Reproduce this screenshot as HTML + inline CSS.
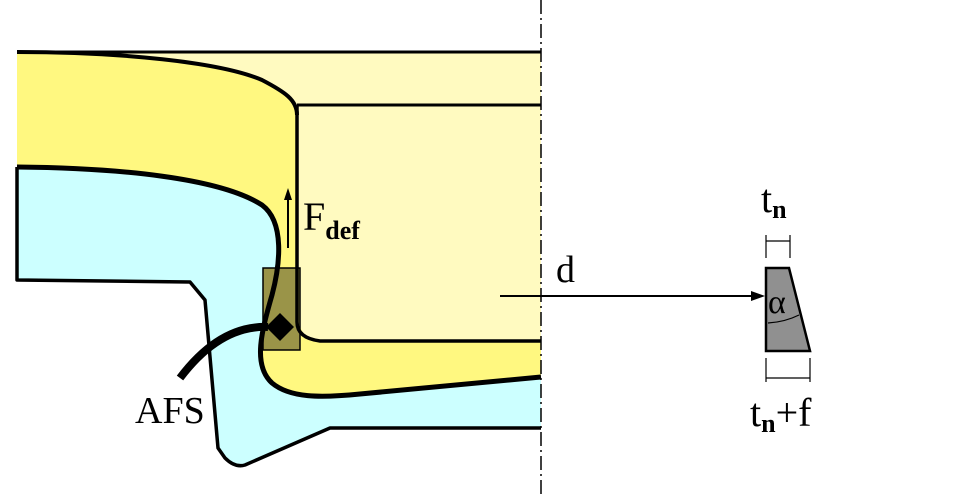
<!DOCTYPE html>
<html><head><meta charset="utf-8"><style>
html,body{margin:0;padding:0;background:#fff;}
svg{display:block;}
text{font-family:"Liberation Serif",serif;fill:#000;}
</style></head><body>
<svg width="965" height="497" viewBox="0 0 965 497">
  <rect x="240" y="52" width="301" height="290" fill="#fffac0"/>
  <path d="M17,52 L297,52 L297,115 C297,100 285,92 262,80 C220,62 120,52 17,52 Z" fill="#fffac0"/>
  <path d="M17,167 C120,168 220,178 262,205 C285,222 280,265 272,295 C262,330 252,365 272,383 C290,398 320,398 360,394 L541,377 L541,428 L330,428 L245,465 Q235,468 225,458 L218,448 L205,300 L190,282 L17,280 Z" fill="#ccffff"/>
  <path d="M17,52 C120,52 220,62 262,80 C285,92 297,100 297,115 L297,268 L276,268 C282,240 278,216 262,205 C220,178 120,168 17,167 Z" fill="#fff880"/>
  <path d="M300,350 L300,322 Q300,338 320,341 L541,341 L541,377 L360,394 C320,398 290,398 272,383 C258,370 258,358 262,350 Z" fill="#fff880"/>
  <rect x="263" y="268" width="37" height="82" fill="#9a9448" stroke="#000" stroke-width="1.5"/>
  <g fill="none" stroke="#000" stroke-linejoin="round">
    <path d="M17,52 L541,52" stroke-width="3"/>
    <path d="M17,52 C120,52 220,62 262,80 C285,92 297,100 297,115" stroke-width="4"/>
    <path d="M297,105 L541,105" stroke-width="3"/>
    <path d="M297,105 L297,322 Q297,338 320,341 L541,341" stroke-width="3.5"/>
    <path d="M17,167 C120,168 220,178 262,205 C285,222 280,265 272,295 C262,330 252,365 272,383 C290,398 320,398 360,394 L541,377" stroke-width="5"/>
    <path d="M17,167 L17,280 L190,282 L205,300 L218,448 L225,458 Q235,468 245,465 L330,428 L541,428" stroke-width="3.5"/>
    <path d="M180,378 Q220,325 268,327" stroke-width="8"/>
    <path d="M541,0 L541,497" stroke-width="1.5" stroke-dasharray="14,4,2,4"/>
    <path d="M288,248 L288,195" stroke-width="2"/>
    <path d="M500,296 L755,296" stroke-width="2"/>
  </g>
  <polygon points="288,188 284,200 292,200" fill="#000"/>
  <polygon points="765,296 751,291 751,301" fill="#000"/>
  <polygon points="280,313 294,327 280,341 266,327" fill="#000"/>
  <polygon points="766,268 789,268 810,351 766,351" fill="#909090" stroke="#000" stroke-width="2.5"/>
  <path d="M768,323 Q785,322 799,315" fill="none" stroke="#000" stroke-width="1.2"/>
  <g stroke="#000" stroke-width="1.2" fill="none">
    <path d="M766,235 L766,258 M790,235 L790,258 M766,241 L790,241"/>
    <path d="M766,358 L766,382 M810,358 L810,382 M766,378 L810,378"/>
  </g>
  <text x="303" y="230" font-size="40">F<tspan font-size="26" font-weight="bold" dy="9">def</tspan></text>
  <text x="135" y="423" font-size="38">AFS</text>
  <text x="556" y="282" font-size="38">d</text>
  <text x="761" y="212" font-size="40">t<tspan font-size="26" font-weight="bold" dy="6">n</tspan></text>
  <text x="768" y="313" font-size="34">α</text>
  <text x="750" y="426" font-size="40">t<tspan font-size="26" font-weight="bold" dy="6">n</tspan><tspan dy="-6">+f</tspan></text>
</svg>
</body></html>
